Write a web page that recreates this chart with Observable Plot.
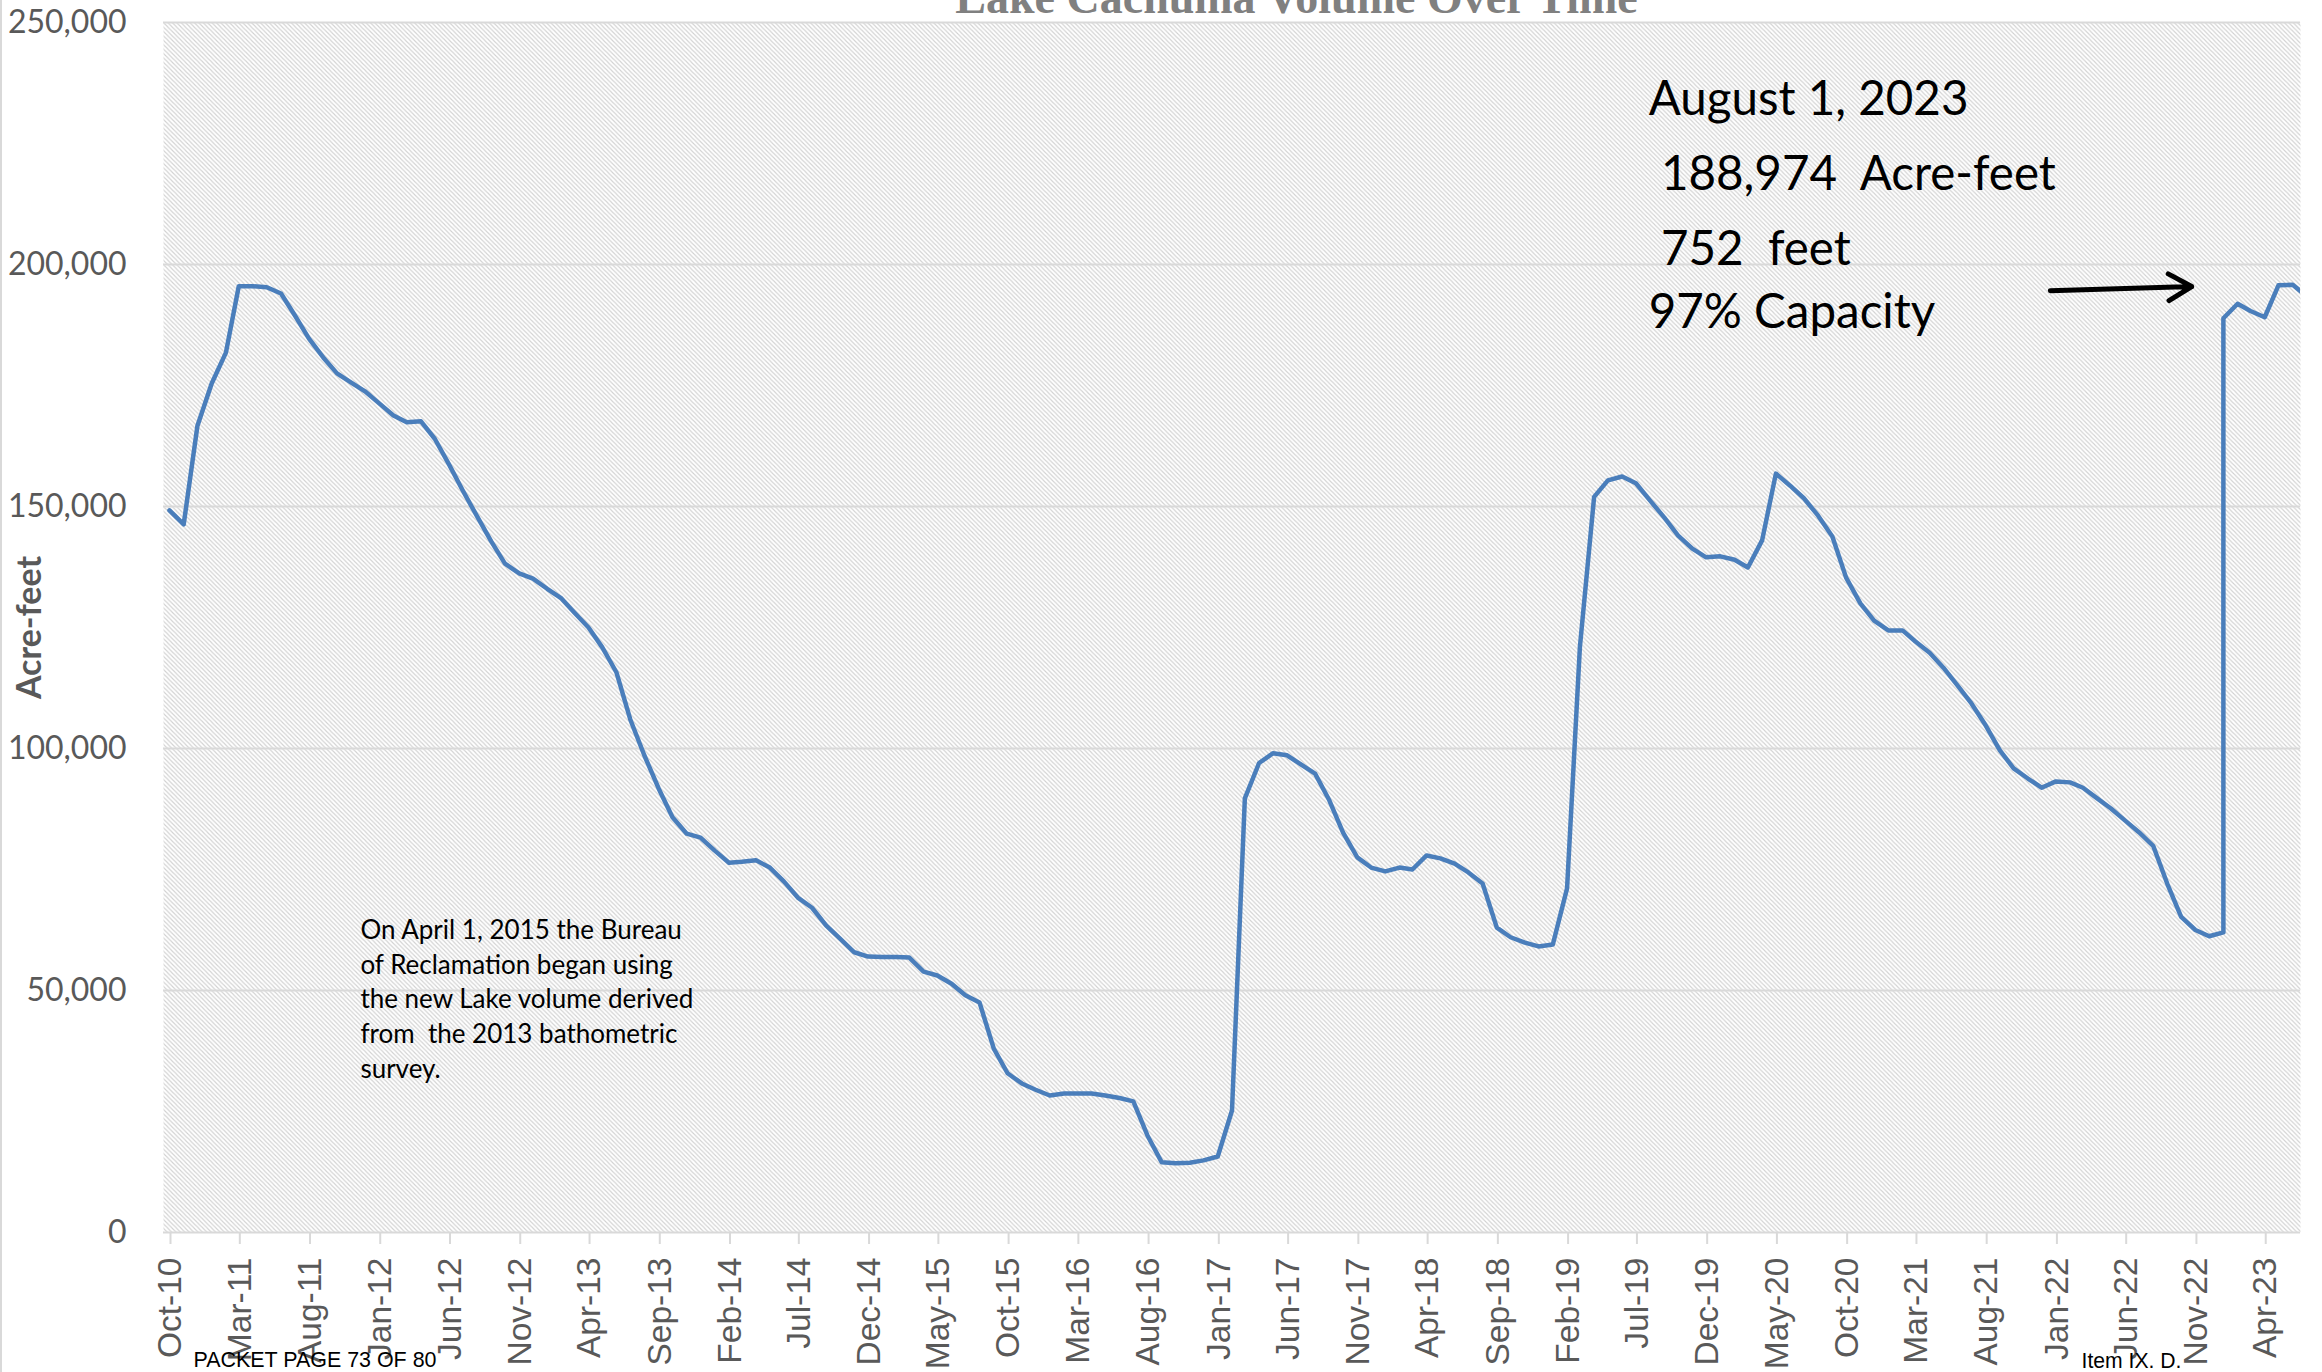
<!DOCTYPE html>
<html>
<head>
<meta charset="utf-8">
<script src="https://cdn.jsdelivr.net/npm/d3@7"></script>
<script src="https://cdn.jsdelivr.net/npm/@observablehq/plot@0.6"></script>
<style>
  html, body { margin: 0; padding: 0; background: #fff; overflow: hidden; }
  #wrap { position: relative; width: 2322px; height: 1372px; }
  #edge { position: absolute; left: 0; top: 0; width: 2px; height: 1372px; background: #d9d9d9; }
</style>
</head>
<body>
<div id="wrap"><div id="edge"></div></div>
<script>
// ---- Data (acre-feet), monthly readings ----
const volume2010 = [149200, 146300, 166700]; // Oct–Dec
const volume2011 = [175400, 181800, 195500, 195500, 195300, 194000, 189500, 184700, 180800, 177500, 175600, 173800];
const volume2012 = [171300, 168800, 167400, 167600, 164000, 158700, 153300, 148000, 142800, 138200, 136200, 135100];
const volume2013 = [133000, 131000, 128100, 125000, 120900, 115700, 106000, 98500, 91700, 85800, 82400, 81600];
const volume2014 = [78900, 76400, 76600, 76900, 75400, 72500, 69200, 67100, 63400, 60700, 57900, 57000];
const volume2015 = [56900, 56900, 56800, 53900, 53100, 51400, 49000, 47500, 38000, 32900, 30800, 29500];
const volume2016 = [28300, 28700, 28700, 28700, 28300, 27800, 27100, 20000, 14500, 14300, 14400, 14900];
const volume2017 = [15700, 25200, 89700, 97000, 99000, 98600, 96700, 94800, 89300, 82600, 77500, 75400];
const volume2018 = [74600, 75400, 75000, 77900, 77300, 76200, 74400, 72100, 63000, 61000, 59900, 59100];
const volume2019 = [59500, 71100, 121000, 152000, 155400, 156200, 154800, 151200, 147700, 144000, 141300, 139500];
const volume2020 = [139700, 139000, 137400, 143000, 156800, 154300, 151700, 148100, 143800, 135300, 130000, 126400];
const volume2021 = [124400, 124400, 122100, 119800, 116700, 113000, 109300, 104800, 99600, 95900, 93800, 91900];
const volume2022 = [93200, 93000, 91900, 89700, 87600, 85100, 82700, 79900, 72000, 65200, 62500, 61200];
const volume2023 = [62000, 188900, 191900, 190400, 189100, 195700, 195800, 193500];
const months2023 = [0, 0, 1, 2, 3, 4, 5, 6]; // two January readings
const readingDay = 14;

const xTickLabels = ["Oct-10","Mar-11","Aug-11","Jan-12","Jun-12","Nov-12","Apr-13","Sep-13","Feb-14","Jul-14",
  "Dec-14","May-15","Oct-15","Mar-16","Aug-16","Jan-17","Jun-17","Nov-17","Apr-18","Sep-18","Feb-19","Jul-19",
  "Dec-19","May-20","Oct-20","Mar-21","Aug-21","Jan-22","Jun-22","Nov-22","Apr-23"];
const yTicks = [0, 50000, 100000, 150000, 200000, 250000];

const titleText = "Lake Cachuma Volume Over Time";
const yLabelText = "Acre-feet";
const calloutLines = ["August 1, 2023", " 188,974  Acre-feet", " 752  feet", "97% Capacity"];
const calloutValues = [230800, 215300, 199800, 186800];
const calloutDate = "2019-08-11";
const noteText = "On April 1, 2015 the Bureau\nof Reclamation began using\nthe new Lake volume derived\nfrom  the 2013 bathometric\nsurvey.";
const noteDate = "2011-12-04";
const noteValue = 32000;
const arrowFrom = ["2022-01-02", 194600];
const arrowTo = ["2022-11-06", 195450];
const footerLeft = "PACKET PAGE 73 OF 80";
const footerRight = "Item IX. D.";

// ---- Build table ----
const seriesByYear = [[2010, 9, volume2010], [2011, 0, volume2011], [2012, 0, volume2012], [2013, 0, volume2013],
  [2014, 0, volume2014], [2015, 0, volume2015], [2016, 0, volume2016], [2017, 0, volume2017], [2018, 0, volume2018],
  [2019, 0, volume2019], [2020, 0, volume2020], [2021, 0, volume2021], [2022, 0, volume2022]];
const rows = [];
for (const [year, m0, values] of seriesByYear)
  values.forEach((v, i) => rows.push({date: new Date(Date.UTC(year, m0 + i, readingDay)), volume: v}));
volume2023.forEach((v, i) => rows.push({date: new Date(Date.UTC(2023, months2023[i], readingDay)), volume: v}));

const parseTick = d3.utcParse("%b-%y");
const xTicks = xTickLabels.map(parseTick);
const tickLabelByTime = new Map(xTicks.map((d, i) => [+d, xTickLabels[i]]));
const nb = (s) => s.replace(/ /g, "\u00a0");

const callouts = calloutLines.map((t, i) => ({text: nb(t), date: new Date(calloutDate), value: calloutValues[i]}));

const chart = Plot.plot({
  width: 2322,
  height: 1372,
  marginLeft: 163,
  marginRight: 22,
  marginTop: 22,
  marginBottom: 140,
  style: {background: "#fff", overflow: "visible"},
  x: {type: "utc", domain: [new Date("2010-10-01"), new Date("2023-07-01")]},
  y: {domain: [0, 250000]},
  marks: [
    Plot.frame({fill: "url(#hatch)", stroke: "none"}),
    Plot.gridY({ticks: yTicks, stroke: "#d9d9d9", strokeOpacity: 1, strokeWidth: 2}),
    Plot.axisY({ticks: yTicks, tickFormat: d3.format(","), tickSize: 0, tickPadding: 37, label: null,
      fontSize: 32, fontFamily: "Lato", fill: "#595959"}),
    Plot.axisX({ticks: xTicks, tickFormat: (d) => tickLabelByTime.get(+d), tickRotate: -90, tickSize: 12,
      tickPadding: 13, label: null, fontSize: 33.5, fontFamily: "Liberation Sans", fill: "#595959",
      stroke: "#d9d9d9", strokeWidth: 2, dx: 7}),
    Plot.lineY(rows, {x: "date", y: "volume", stroke: "#4a7ebb", strokeWidth: 4.5, strokeLinejoin: "round", clip: true}),
    Plot.text([titleText], {frameAnchor: "top-left", dx: 1133, dy: -10, textAnchor: "middle", lineAnchor: "bottom",
      fontFamily: "Liberation Serif", fontWeight: "bold", fontSize: 46, fill: "#808080"}),
    Plot.text([yLabelText], {frameAnchor: "left", dx: -133, rotate: -90, textAnchor: "middle", lineAnchor: "middle",
      fontFamily: "Lato", fontWeight: "bold", fontSize: 34, fill: "#595959"}),
    Plot.text(callouts, {x: "date", y: "value", text: "text", textAnchor: "start", lineAnchor: "bottom",
      fontFamily: "Lato", fontSize: 47.5, fill: "#000"}),
    Plot.text([noteText], {x: () => new Date(noteDate), y: () => noteValue, textAnchor: "start", lineAnchor: "bottom",
      lineHeight: 1.33, fontFamily: "Lato", fontSize: 26, fill: "#000"}),
    Plot.arrow([{x1: new Date(arrowFrom[0]), y1: arrowFrom[1], x2: new Date(arrowTo[0]), y2: arrowTo[1]}],
      {x1: "x1", y1: "y1", x2: "x2", y2: "y2", stroke: "#000", strokeWidth: 5}),
    Plot.text([footerLeft], {frameAnchor: "bottom-left", dx: 30, dy: 134, textAnchor: "start", lineAnchor: "bottom",
      fontFamily: "Liberation Sans", fontSize: 22, fill: "#000"}),
    Plot.text([footerRight], {frameAnchor: "bottom-left", dx: 1918, dy: 135, textAnchor: "start", lineAnchor: "bottom",
      fontFamily: "Liberation Sans", fontSize: 22, fill: "#000"})
  ]
});

// hatch pattern for the plot area
const svgNS = "http://www.w3.org/2000/svg";
const defs = document.createElementNS(svgNS, "defs");
defs.innerHTML = '<pattern id="hatch" width="4.4" height="4.4" patternUnits="userSpaceOnUse">' +
  '<rect width="4.4" height="4.4" fill="#ffffff"/>' +
  '<path d="M-1.1,-1.1L5.5,5.5M3.3,-1.1L5.5,1.1M-1.1,3.3L1.1,5.5" stroke="#d2d2d2" stroke-width="1.1"/></pattern>';
chart.insertBefore(defs, chart.firstChild);
const frameRect = chart.querySelector('rect[aria-label="frame"], g[aria-label="frame"] rect');
if (frameRect) frameRect.setAttribute("fill", "url(#hatch)");
for (const t of chart.querySelectorAll("text")) {
  if (t.textContent === footerLeft) { t.setAttribute("textLength", 243); t.setAttribute("lengthAdjust", "spacingAndGlyphs"); }
  if (t.textContent === footerRight) { t.setAttribute("textLength", 100); t.setAttribute("lengthAdjust", "spacingAndGlyphs"); }
}
document.getElementById("wrap").prepend(chart);
</script>
</body>
</html>
